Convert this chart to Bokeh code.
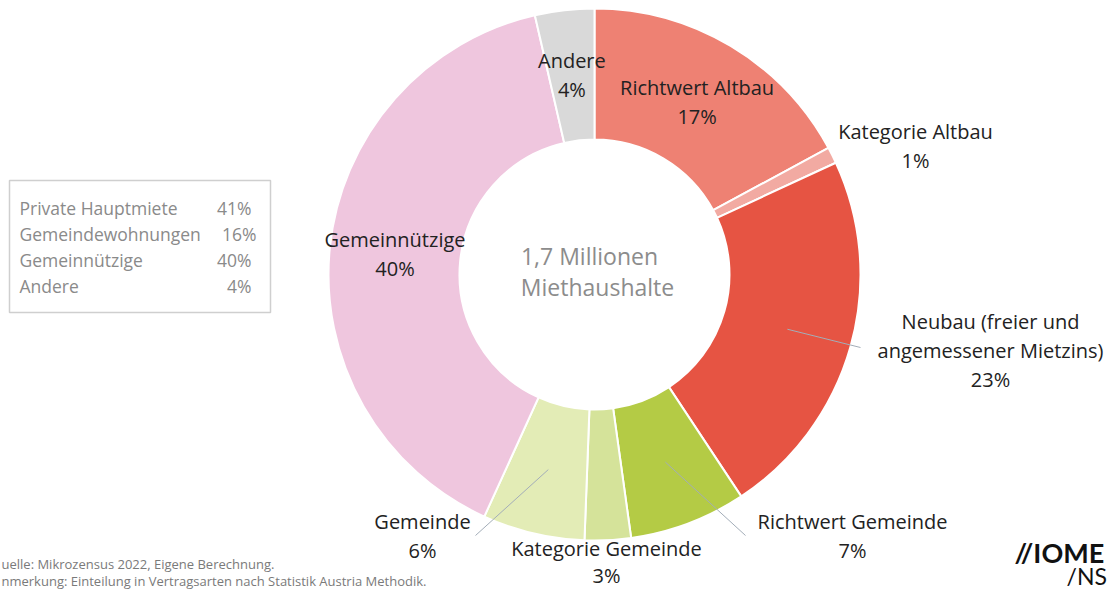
import math
from bokeh.plotting import figure
from bokeh.models import Range1d, ColumnDataSource
from bokeh.core.properties import value
from bokeh.embed import file_html
from bokeh.resources import INLINE

# ---- data ----
categories = ["Richtwert Altbau", "Kategorie Altbau", "Neubau (freier und\nangemessener Mietzins)",
              "Richtwert Gemeinde", "Kategorie Gemeinde", "Gemeinde", "Gemeinnützige", "Andere"]
shares = [17.1, 1.0, 22.6, 7.1, 2.8, 6.2, 39.6, 3.6]
colors = ["#ee8173", "#f2aaa2", "#e65443", "#b4cb45", "#d5e39a", "#e3ecb6", "#efc6de", "#d9d9d9"]
center_text = ["1,7 Millionen", "Miethaushalte"]
legend_labels = ["Private Hauptmiete", "Gemeindewohnungen", "Gemeinnützige", "Andere"]
legend_values = ["41%", "16%", "40%", "4%"]
footer = ["uelle: Mikrozensus 2022, Eigene Berechnung.",
          "nmerkung: Einteilung in Vertragsarten nach Statistik Austria Methodik."]
logo = ["//IOME", "/NS"]

# ---- layout (page pixel space, figure sits at page origin) ----
W, H = 1112, 590
FONT = value("Open Sans")
def Y(py):
    return 590 - py

CX, CY = 594, Y(274)
R_OUT, R_IN = 266, 135
R_MID = (R_OUT + R_IN) / 2

p = figure(width=W, height=H, output_backend="svg", toolbar_location=None,
           x_range=Range1d(0, W), y_range=Range1d(590 - H, 590),
           x_axis_location=None, y_axis_location=None, min_border=0)
p.grid.visible = False
p.outline_line_color = None
p.background_fill_color = "white"

total = sum(shares)
starts, ends, mids = [], [], []
cum = 0.0
for s in shares:
    a0 = math.pi / 2 - cum / total * 2 * math.pi
    cum += s
    a1 = math.pi / 2 - cum / total * 2 * math.pi
    starts.append(a0); ends.append(a1); mids.append((a0 + a1) / 2)

src = ColumnDataSource(dict(start=starts, end=ends, color=colors))
p.annular_wedge(x=CX, y=CY, inner_radius=R_IN, outer_radius=R_OUT,
                start_angle="start", end_angle="end", direction="clock",
                fill_color="color", line_color="white", line_width=2, source=src)

pct = ["%d%%" % round(s) for s in shares]
mid_pts = [(CX + R_MID * math.cos(a), CY + R_MID * math.sin(a)) for a in mids]

# label placement: inside segments at ring middle unless listed (x, y of first line, leader end)
placement = {
    1: (915, 131, None),
    2: (990, 321, (860, 347)),
    3: (852, 521, (745, 535)),
    4: (606, 548, None),
    5: (422, 521, (475, 535)),
}
LH = 29
tx, ty, tt = [], [], []
for i, name in enumerate(categories):
    lines = name.split("\n") + [pct[i]]
    if i in placement:
        x0, py0, lead = placement[i]
        lh = 27 if i == 4 else LH
        for k, ln in enumerate(lines):
            tx.append(x0); ty.append(Y(py0 + k * lh)); tt.append(ln)
        if lead is not None:
            mx, my = mid_pts[i]
            p.line([mx, lead[0]], [my, Y(lead[1])], line_color="#a3adb8", line_width=1)
    else:
        mx, my = mid_pts[i]
        n = len(lines)
        for k, ln in enumerate(lines):
            tx.append(mx); ty.append(my + ((n - 1) / 2 - k) * LH); tt.append(ln)

p.text(x=tx, y=ty, text=tt, text_align="center", text_baseline="middle",
       text_font=FONT, text_font_size="20px", text_color="#222222")

# center text
p.text(x=[589, 597], y=[Y(255), Y(286)], text=center_text, text_align="center",
       text_baseline="middle", text_font=FONT, text_font_size="23px", text_color="#8c8c8c")

# legend box
p.quad(left=[9], right=[270], top=[Y(180)], bottom=[Y(312)], fill_color=None,
       line_color="#cfcfcf", line_width=1.5)
ly = [Y(207 + 26 * k) for k in range(len(legend_labels))]
p.text(x=[19] * len(legend_labels), y=ly, text=legend_labels, text_align="left",
       text_baseline="middle", text_font=FONT, text_font_size="17.5px", text_color="#8a8a8a")
p.text(x=[251, 256, 251, 251], y=ly, text=legend_values, text_align="right",
       text_baseline="middle", text_font=FONT, text_font_size="17.5px", text_color="#8a8a8a")

# footer
p.text(x=[1, 1], y=[Y(563), Y(580)], text=footer, text_align="left", text_baseline="middle",
       text_font=FONT, text_font_size="13px", text_color="#7a7a7a")

# logo (visible part)
p.text(x=[1014], y=[Y(552)], text=[logo[0]], text_align="left", text_baseline="middle",
       text_font=value("Lato"), text_font_size="27px", text_font_style="bold", text_color="#111111")
p.text(x=[1066], y=[Y(575)], text=[logo[1]], text_align="left", text_baseline="middle",
       text_font=value("Lato"), text_font_size="23px", text_color="#111111")

open("out.html", "w").write(file_html(p, INLINE))
